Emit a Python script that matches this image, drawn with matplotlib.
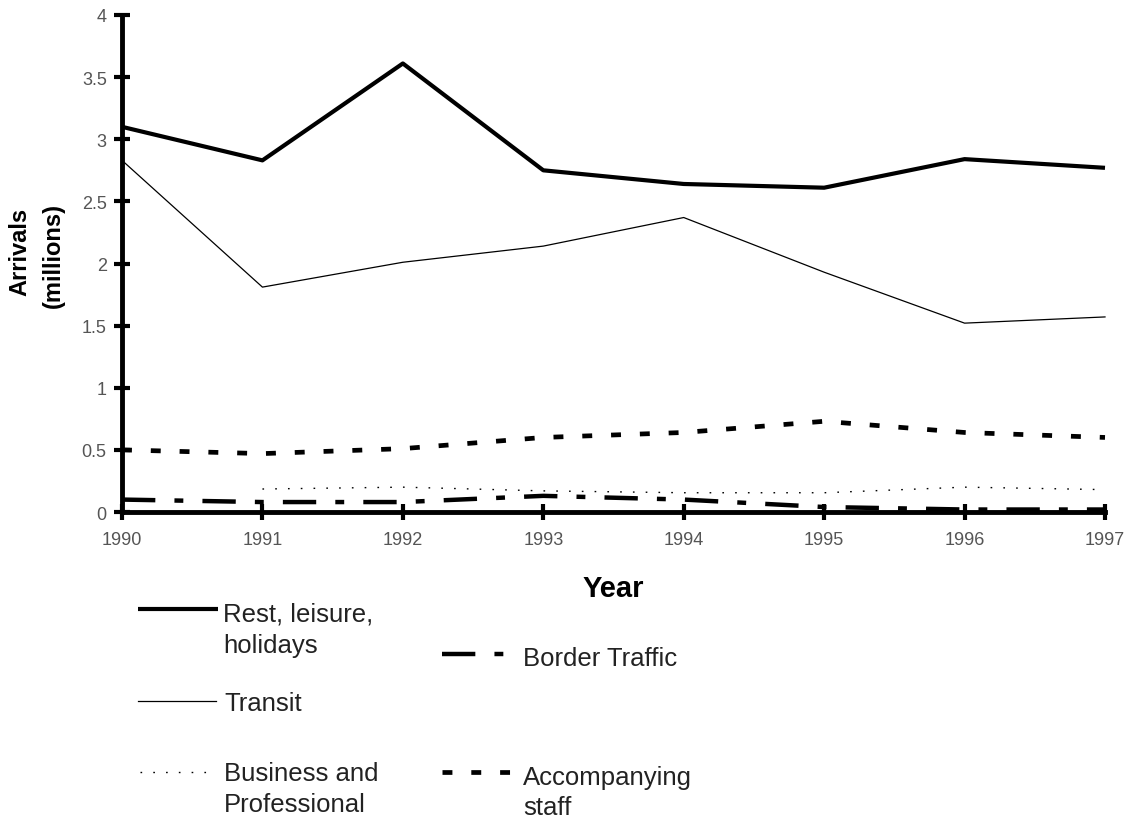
import matplotlib
matplotlib.use("Agg")
import matplotlib.pyplot as plt
from matplotlib.lines import Line2D

plt.rcParams["font.family"] = ["Liberation Sans", "DejaVu Sans"]

years = [1990, 1991, 1992, 1993, 1994, 1995, 1996, 1997]
rest = [3.10, 2.83, 3.61, 2.75, 2.64, 2.61, 2.84, 2.77]
transit = [2.83, 1.81, 2.01, 2.14, 2.37, 1.93, 1.52, 1.57]
business_years = [1991, 1992, 1993, 1994, 1995, 1996, 1997]
business = [0.185, 0.20, 0.17, 0.155, 0.155, 0.20, 0.18]
border = [0.10, 0.08, 0.08, 0.13, 0.10, 0.04, 0.02, 0.02]
staff = [0.50, 0.47, 0.51, 0.60, 0.64, 0.73, 0.64, 0.60]

W, H = 1130, 820


def fx(px):
    return px / W


def fy(py):
    return 1 - py / H


fig = plt.figure(figsize=(W / 100, H / 100), dpi=100)
ax = fig.add_axes([fx(122), fy(513), (1105 - 122) / W, (513 - 16) / H])

styles = {
    "rest": dict(color="black", lw=3.0, solid_capstyle="butt"),
    "transit": dict(color="black", lw=0.9),
    "business": dict(color="black", lw=1.0, dashes=(1.2, 8)),
    "border": dict(color="black", lw=3.2, dashes=(7.5, 4.3, 2, 4.3)),
    "staff": dict(color="black", lw=3.4, dashes=(2.1, 4.0)),
}

ax.plot(years, rest, **styles["rest"])
ax.plot(years, transit, **styles["transit"])
ax.plot(business_years, business, **styles["business"])
ax.plot(years, border, **styles["border"])
ax.plot(years, staff, **styles["staff"])

ax.set_xlim(1990, 1997)
ax.set_ylim(0, 4)
ax.set_xticks(years)
ax.set_yticks([0, 0.5, 1, 1.5, 2, 2.5, 3, 3.5, 4])
ax.set_yticklabels(["0", "0.5", "1", "1.5", "2", "2.5", "3", "3.5", "4"])
for s in ["top", "right"]:
    ax.spines[s].set_visible(False)
for s in ["left", "bottom"]:
    ax.spines[s].set_linewidth(3.5)
ax.tick_params(direction="inout", length=12, width=3, labelsize=13,
               labelcolor="#555555")
ax.tick_params(axis="x", pad=8)
ax.tick_params(axis="y", pad=5)
for ln in ax.lines:
    ln.set_clip_on(False)

# y label as two rotated lines
fig.text(fx(20), fy(252), "Arrivals", rotation=90, fontsize=17, fontweight="bold",
         ha="center", va="center")
fig.text(fx(53), fy(255), "(millions)", rotation=90, fontsize=17, fontweight="bold",
         ha="center", va="center")
fig.text(fx(613), fy(597), "Year", fontsize=21, fontweight="bold",
         ha="center", va="baseline")


# legend drawn by hand, two columns below the axis
def handle(x0, x1, y, key):
    fig.add_artist(Line2D([fx(x0), fx(x1)], [fy(y), fy(y)], **styles[key]))


def label(x, baselines, lines):
    for b, t in zip(baselines, lines):
        fig.text(fx(x), fy(b), t, fontsize=18.5, va="baseline", ha="left",
                 color="#222222")


handle(138, 218, 610, "rest")
label(223, [622, 653], ["Rest, leisure,", "holidays"])
handle(138, 216, 702, "transit")
label(224, [711], ["Transit"])
handle(140, 216, 773, "business")
label(224, [781, 812], ["Business and", "Professional"])
handle(442, 505, 655, "border")
label(523, [666], ["Border Traffic"])
handle(442, 510, 773, "staff")
label(523, [785, 815], ["Accompanying", "staff"])

fig.savefig("out.png", dpi=100)
